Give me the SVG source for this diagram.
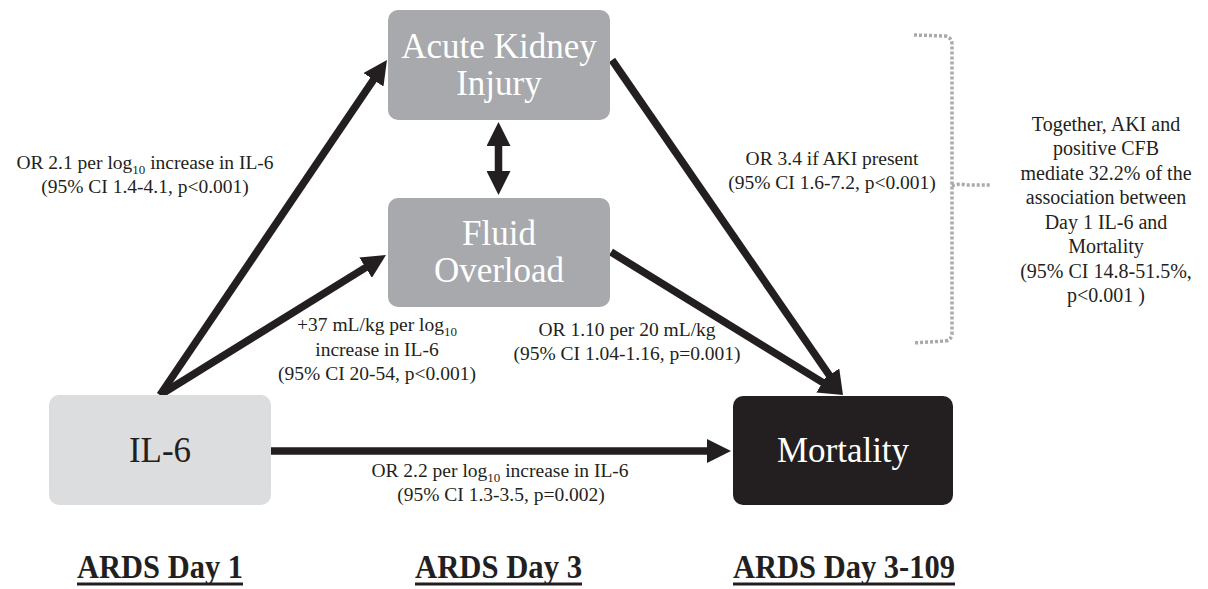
<svg xmlns="http://www.w3.org/2000/svg" width="1208" height="589" viewBox="0 0 1208 589">
<style>
.lbl{font-family:"Liberation Serif","Times New Roman",serif;font-size:19.5px;fill:#231f20;text-anchor:middle}
.sub{font-size:13px}
.node{font-family:"Liberation Serif","Times New Roman",serif;font-size:35px;text-anchor:middle}
.conn{stroke:#231f20;stroke-width:7.5;fill:none;marker-end:url(#ah)}
.hdr{font-family:"Liberation Serif","Times New Roman",serif;font-size:34px;font-weight:bold;fill:#231f20;text-anchor:middle}
.ul{stroke:#231f20;stroke-width:3}
.brk{stroke:#a9aaac;stroke-width:3.5;fill:none;stroke-dasharray:3 2}
</style>
<defs>
<marker id="ah" markerUnits="userSpaceOnUse" markerWidth="24" markerHeight="24" viewBox="0 0 24 24" refX="8" refY="12" orient="auto-start-reverse">
<path d="M0,0 L24,12 L0,24 z" fill="#231f20"/>
</marker>
</defs>
<rect width="1208" height="589" fill="#ffffff"/>
<g id="connectors">
<line class="conn" x1="160" y1="395" x2="378" y2="73.2"/>
<line class="conn" x1="160" y1="395" x2="372.4" y2="263.4"/>
<line class="conn" x1="612" y1="60" x2="833.9" y2="381.8"/>
<line class="conn" x1="611" y1="252" x2="829.4" y2="386.6"/>
<line class="conn" x1="271" y1="451" x2="715" y2="451"/>
<line class="conn" x1="498.5" y1="138" x2="498.5" y2="179" style="marker-start:url(#ah)"/>
</g>
<g id="il6">
<rect x="49" y="395" width="222" height="110" rx="10" fill="#dcdddf"/>
<text class="node" x="160" y="462" fill="#231f20">IL-6</text>
</g>
<g id="aki">
<rect x="388" y="10" width="222" height="110" rx="10" fill="#a7a9ac"/>
<text class="node" x="499" y="58" fill="#ffffff">Acute Kidney</text>
<text class="node" x="499" y="95" fill="#ffffff">Injury</text>
</g>
<g id="fluid">
<rect x="388" y="198" width="222" height="109" rx="10" fill="#a7a9ac"/>
<text class="node" x="499" y="245" fill="#ffffff">Fluid</text>
<text class="node" x="499" y="282" fill="#ffffff">Overload</text>
</g>
<g id="mortality">
<rect x="733" y="396" width="220" height="109" rx="10" fill="#231f20"/>
<text class="node" x="843" y="462" fill="#ffffff">Mortality</text>
</g>
<g id="labels">
<text class="lbl" x="145" y="169">OR 2.1 per log<tspan class="sub" dy="5">10</tspan><tspan dy="-5"> increase in IL-6</tspan></text>
<text class="lbl" x="145" y="193">(95% CI 1.4-4.1, p&lt;0.001)</text>
<text class="lbl" x="377" y="331">+37 mL/kg per log<tspan class="sub" dy="5">10</tspan></text>
<text class="lbl" x="377" y="356">increase in IL-6</text>
<text class="lbl" x="377" y="380">(95% CI 20-54, p&lt;0.001)</text>
<text class="lbl" x="627" y="336">OR 1.10 per 20 mL/kg</text>
<text class="lbl" x="627" y="360">(95% CI 1.04-1.16, p=0.001)</text>
<text class="lbl" x="832" y="165">OR 3.4 if AKI present</text>
<text class="lbl" x="832" y="189">(95% CI 1.6-7.2, p&lt;0.001)</text>
<text class="lbl" x="500" y="477">OR 2.2 per log<tspan class="sub" dy="5">10</tspan><tspan dy="-5"> increase in IL-6</tspan></text>
<text class="lbl" x="501" y="501">(95% CI 1.3-3.5, p=0.002)</text>
</g>
<g id="bracket">
<path class="brk" d="M914,35 L945,36 Q952,37 952,45 L952,333 Q952,340 945,341 L913,343"/>
<path class="brk" d="M952,186 Q958,183 966,185 L990,185"/>
</g>
<g id="mediation">
<text class="lbl" style="font-size:20px" x="1106" y="131">Together, AKI and</text>
<text class="lbl" style="font-size:20px" x="1106" y="155">positive CFB</text>
<text class="lbl" style="font-size:20px" x="1106" y="180">mediate 32.2% of the</text>
<text class="lbl" style="font-size:20px" x="1106" y="204">association between</text>
<text class="lbl" style="font-size:20px" x="1106" y="229">Day 1 IL-6 and</text>
<text class="lbl" style="font-size:20px" x="1106" y="253">Mortality</text>
<text class="lbl" style="font-size:20px" x="1106" y="278">(95% CI 14.8-51.5%,</text>
<text class="lbl" style="font-size:20px" x="1106" y="302">p&lt;0.001 )</text>
</g>
<g id="timeline">
<text class="hdr" x="160" y="578" textLength="166" lengthAdjust="spacingAndGlyphs">ARDS Day 1</text>
<line class="ul" x1="77" y1="584" x2="243" y2="584"/>
<text class="hdr" x="498.5" y="578" textLength="167" lengthAdjust="spacingAndGlyphs">ARDS Day 3</text>
<line class="ul" x1="415" y1="584" x2="582" y2="584"/>
<text class="hdr" x="844" y="578" textLength="222" lengthAdjust="spacingAndGlyphs">ARDS Day 3-109</text>
<line class="ul" x1="733" y1="584" x2="955" y2="584"/>
</g>
</svg>
